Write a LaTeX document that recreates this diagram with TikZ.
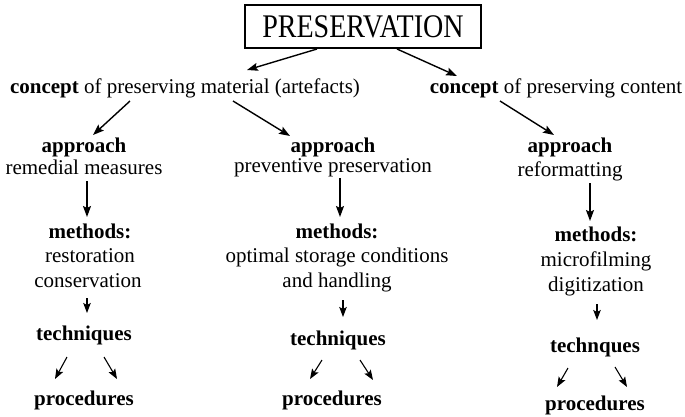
\documentclass[tikz,border=0pt]{standalone}
\usepackage{fontspec}
\setmainfont{Liberation Serif}
\newfontfamily\titlefont{Liberation Serif}[FakeStretch=0.85]
\usetikzlibrary{arrows.meta}
\tikzset{
  txt/.style={font=\fontsize{21}{25}\selectfont, inner sep=0pt, anchor=base},
  bld/.style={txt, font=\fontsize{21}{25}\selectfont\bfseries},
  arr/.style={line width=1.4pt, -{Stealth[length=11pt,width=8pt,inset=2pt]}},
  sarr/.style={line width=1.1pt, -{Stealth[length=10pt,width=7.5pt,inset=2pt]}},
  titlebox/.style={draw, line width=1.2pt, font=\titlefont\fontsize{33}{33}\selectfont,
    inner xsep=10pt, minimum height=43pt, minimum width=236pt}
}
\begin{document}
\begin{tikzpicture}[x=1pt,y=-1pt]
\useasboundingbox (0,0) rectangle (685,416);
\node[titlebox] (title) at (363,26.5) {PRESERVATION};
\node[txt] (cl) at (185,93) {\textbf{concept} of preserving material (artefacts)};
\node[txt] (cr) at (556,93) {\textbf{concept} of preserving content};
% approach
\node[bld] (apL) at (84,152) {approach};
\node[txt] (remL) at (84,174) {remedial measures};
\node[bld] (apM) at (333,152) {approach};
\node[txt] (remM) at (333,172) {preventive preservation};
\node[bld] (apR) at (570,152) {approach};
\node[txt] (remR) at (570,176) {reformatting};
% methods
\node[bld] (meL) at (90,238) {methods:};
\node[txt] (resL) at (90,262) {restoration};
\node[txt] (conL) at (88,287) {conservation};
\node[bld] (meM) at (337,238) {methods:};
\node[txt] (optM) at (337,262) {optimal storage conditions};
\node[txt] (hanM) at (337,287) {and handling};
\node[bld] (meR) at (596,241) {methods:};
\node[txt] (micR) at (596,266) {microfilming};
\node[txt] (digR) at (596,291) {digitization};
% techniques
\node[bld] (teL) at (84,340) {techniques};
\node[bld] (teM) at (338,345) {techniques};
\node[bld] (teR) at (595,352) {technques};
% procedures
\node[bld] (prL) at (84,405) {procedures};
\node[bld] (prM) at (332,405) {procedures};
\node[bld] (prR) at (595,410) {procedures};
% arrows
\draw[arr] ([shift={(-46,22.5)}]title.center) -- ([shift={(62,-23)}]cl.base);
\draw[arr] ([shift={(34,22.5)}]title.center) -- ([shift={(-99,-17)}]cr.base);
\draw[arr] ([shift={(-55,8)}]cl.base) -- ([shift={(9,-17)}]apL.base);
\draw[arr] ([shift={(48,8)}]cl.base) -- ([shift={(-43,-16)}]apM.base);
\draw[arr] ([shift={(-56,8)}]cr.base) -- ([shift={(-16,-17)}]apR.base);
\draw[arr] ([shift={(3,7)}]remL.base) -- ([shift={(-3,-21)}]meL.base);
\draw[arr] ([shift={(7,6)}]remM.base) -- ([shift={(3,-21)}]meM.base);
\draw[arr] ([shift={(20,7)}]remR.base) -- ([shift={(-6,-20)}]meR.base);
\draw[sarr] ([shift={(-1,11)}]conL.base) -- ([shift={(3,-27)}]teL.base);
\draw[sarr] ([shift={(6,13)}]hanM.base) -- ([shift={(5,-28)}]teM.base);
\draw[sarr] ([shift={(1,13)}]digR.base) -- ([shift={(2,-32)}]teR.base);
\draw[sarr] ([shift={(-17,17)}]teL.base) -- ([shift={(-29,-26)}]prL.base);
\draw[sarr] ([shift={(20,17)}]teL.base) -- ([shift={(33,-26)}]prL.base);
\draw[sarr] ([shift={(-16,15)}]teM.base) -- ([shift={(-22,-26)}]prM.base);
\draw[sarr] ([shift={(22,15)}]teM.base) -- ([shift={(41,-25)}]prM.base);
\draw[sarr] ([shift={(-27,16)}]teR.base) -- ([shift={(-38,-23)}]prR.base);
\draw[sarr] ([shift={(20,15)}]teR.base) -- ([shift={(32,-23)}]prR.base);
\end{tikzpicture}
\end{document}
